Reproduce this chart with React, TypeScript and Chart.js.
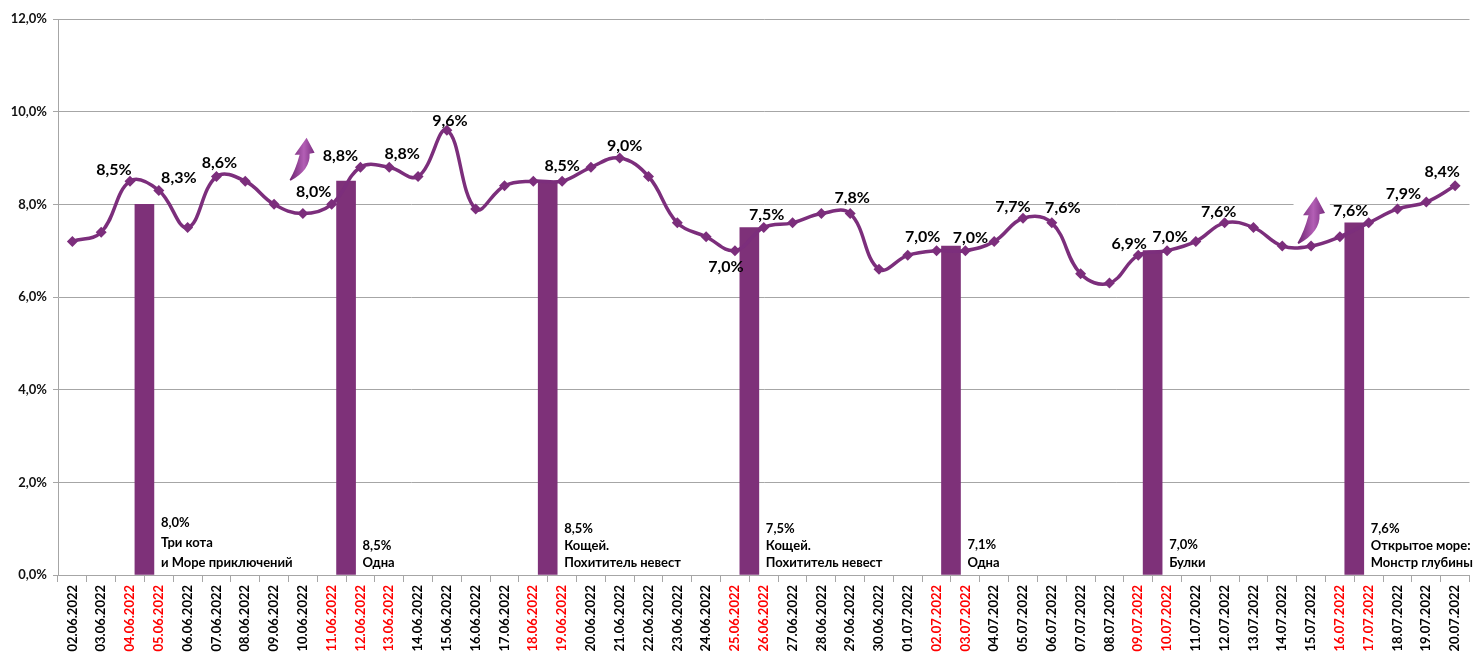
import React, { useEffect, useRef } from 'react';
import { Chart, registerables } from 'chart.js';

Chart.register(...registerables);

// ---------- data ----------
const categories = [
  '02.06.2022', '03.06.2022', '04.06.2022', '05.06.2022', '06.06.2022', '07.06.2022', '08.06.2022',
  '09.06.2022', '10.06.2022', '11.06.2022', '12.06.2022', '13.06.2022', '14.06.2022', '15.06.2022',
  '16.06.2022', '17.06.2022', '18.06.2022', '19.06.2022', '20.06.2022', '21.06.2022', '22.06.2022',
  '23.06.2022', '24.06.2022', '25.06.2022', '26.06.2022', '27.06.2022', '28.06.2022', '29.06.2022',
  '30.06.2022', '01.07.2022', '02.07.2022', '03.07.2022', '04.07.2022', '05.07.2022', '06.07.2022',
  '07.07.2022', '08.07.2022', '09.07.2022', '10.07.2022', '11.07.2022', '12.07.2022', '13.07.2022',
  '14.07.2022', '15.07.2022', '16.07.2022', '17.07.2022', '18.07.2022', '19.07.2022', '20.07.2022',
];

const weekendIdx = [2, 3, 9, 10, 11, 16, 17, 23, 24, 30, 31, 37, 38, 44, 45];

const shareValues = [
  7.2, 7.4, 8.5, 8.3, 7.5, 8.6, 8.5, 8.0, 7.8, 8.0, 8.8, 8.8, 8.6, 9.6, 7.9, 8.4, 8.5, 8.5, 8.8, 9.0,
  8.6, 7.6, 7.3, 7.0, 7.5, 7.6, 7.8, 7.8, 6.6, 6.9, 7.0, 7.0, 7.2, 7.7, 7.6, 6.5, 6.3, 6.9, 7.0, 7.2,
  7.6, 7.5, 7.1, 7.1, 7.3, 7.6, 7.9, 8.05, 8.4,
];

const labeledIdx = [2, 3, 5, 9, 10, 11, 13, 17, 19, 23, 24, 27, 30, 31, 33, 34, 37, 38, 40, 45, 46, 48];

const barPositions = [2.5, 9.5, 16.5, 23.5, 30.5, 37.5, 44.5];
const barValues = [8.0, 8.5, 8.5, 7.5, 7.1, 7.0, 7.6];
const barTitles = [
  ['Три кота', 'и Море приключений'],
  ['Одна'],
  ['Кощей.', 'Похититель невест'],
  ['Кощей.', 'Похититель невест'],
  ['Одна'],
  ['Булки'],
  ['Открытое море:', 'Монстр глубины'],
];

const yMin = 0;
const yMax = 12;
const yStep = 2;

// arrow anchors (category index, value) for the tail of each arrow
const arrowAnchorX = [7.54, 42.53];
const arrowAnchorY = [8.53, 7.17];

// ---------- styles ----------
const PURPLE = '#7C2E7C';
const BAR_PURPLE = '#7E3179';
const GRID = '#a6a6a6';
const FONT = "Lato, 'Noto Sans', sans-serif";

// label offsets (px) relative to the point, same order as labeledIdx
const labelOffsets: number[][] = [
  [-16, -11], [20, -13], [3, -14], [-18, -12], [-20, -11], [13, -13], [3, -9], [0, -15], [5, -12],
  [-9, 16], [3, -13], [2, -16], [-14, -14], [5, -13], [-10, -11], [11, -15], [-9, -11], [3, -14],
  [-6, -11], [-18, -12], [6, -15], [-13, -14],
];
const annotationLineGap = [20, 17, 17, 17, 18, 18, 17];
const arrowScale = [1, 1.1];

const fmt = (v: number) => v.toFixed(1).replace('.', ',') + '%';

function drawArrow(ctx: CanvasRenderingContext2D, x0: number, y0: number, s: number) {
  ctx.save();
  ctx.translate(x0, y0);
  ctx.scale(s, s);
  const g = ctx.createLinearGradient(0, 0, 26, 0);
  g.addColorStop(0, '#6c2370');
  g.addColorStop(0.55, '#b35fb5');
  g.addColorStop(1, '#74287a');
  ctx.fillStyle = g;
  ctx.beginPath();
  ctx.moveTo(0, 0);
  ctx.quadraticCurveTo(6, -10, 10, -25);
  ctx.lineTo(5, -25);
  ctx.lineTo(17, -42);
  ctx.lineTo(25, -27);
  ctx.lineTo(20, -26);
  ctx.quadraticCurveTo(21, -10, 1, 1);
  ctx.closePath();
  ctx.fill();
  ctx.restore();
}

const overlayPlugin = {
  id: 'overlay',
  beforeDatasetsDraw(chart: any) {
    const ctx = chart.ctx as CanvasRenderingContext2D;
    const xb = chart.scales.xb;
    const y = chart.scales.y;
    ctx.save();
    ctx.fillStyle = '#ffffff';
    arrowAnchorX.forEach((ax, i) => {
      const px = xb.getPixelForValue(ax);
      const py = y.getPixelForValue(arrowAnchorY[i]);
      const s = arrowScale[i];
      ctx.fillRect(px - 4, py - 47 * s, 33 * s, 26 * s);
    });
    ctx.restore();
  },
  afterDatasetsDraw(chart: any) {
    const ctx = chart.ctx as CanvasRenderingContext2D;
    const xb = chart.scales.xb;
    const y = chart.scales.y;
    const area = chart.chartArea;

    // arrows
    arrowAnchorX.forEach((ax, i) => {
      drawArrow(ctx, xb.getPixelForValue(ax), y.getPixelForValue(arrowAnchorY[i]), arrowScale[i]);
    });

    // point labels
    const lineMeta = chart.getDatasetMeta(0);
    ctx.save();
    ctx.font = `bold 16px ${FONT}`;
    ctx.fillStyle = '#000';
    ctx.textAlign = 'center';
    ctx.textBaseline = 'middle';
    labeledIdx.forEach((idx, k) => {
      const el = lineMeta.data[idx];
      const [dx, dy] = labelOffsets[k];
      ctx.fillText(fmt(shareValues[idx]), el.x + dx, el.y + dy);
    });
    ctx.restore();

    // bar annotations
    const barMeta = chart.getDatasetMeta(1);
    ctx.save();
    ctx.font = `bold 13px ${FONT}`;
    ctx.fillStyle = '#000';
    ctx.textAlign = 'left';
    ctx.textBaseline = 'middle';
    barMeta.data.forEach((el: any, i: number) => {
      const lines = [fmt(barValues[i]), ...barTitles[i]];
      const x = el.x + el.width / 2 + 7;
      const gap = annotationLineGap[i];
      const bottom = area.bottom - 12;
      lines.forEach((t, j) => {
        ctx.fillText(t, x, bottom - (lines.length - 1 - j) * gap);
      });
    });
    ctx.restore();
  },
};

export default function App() {
  const ref = useRef<HTMLCanvasElement | null>(null);

  useEffect(() => {
    if (!ref.current) return;
    const chart = new Chart(ref.current, {
      type: 'bar',
      data: {
        labels: categories,
        datasets: [
          {
            type: 'line',
            label: 'share',
            data: shareValues,
            xAxisID: 'x',
            yAxisID: 'y',
            borderColor: PURPLE,
            backgroundColor: PURPLE,
            borderWidth: 3.5,
            tension: 0.4,
            pointStyle: 'rectRot',
            pointRadius: 5.5,
            pointBackgroundColor: PURPLE,
            pointBorderColor: PURPLE,
            pointBorderWidth: 0,
            order: 1,
          } as any,
          {
            type: 'bar',
            label: 'premiere',
            data: barPositions.map((p, i) => ({ x: p, y: barValues[i] })),
            xAxisID: 'xb',
            yAxisID: 'y',
            backgroundColor: BAR_PURPLE,
            borderWidth: 0,
            barThickness: 19,
            grouped: false,
            order: 2,
          } as any,
        ],
      },
      options: {
        animation: false,
        responsive: false,
        events: [],
        layout: { padding: { top: 19, right: 5, left: 0, bottom: 0 } },
        plugins: { legend: { display: false }, tooltip: { enabled: false } },
        scales: {
          x: {
            type: 'category',
            offset: true,
            grid: {
              offset: true,
              drawOnChartArea: false,
              drawTicks: true,
              tickLength: 7,
              color: GRID,
            },
            border: { color: GRID },
            ticks: {
              autoSkip: false,
              maxRotation: 90,
              minRotation: 90,
              padding: 3,
              font: { family: FONT, size: 13, weight: 'bold' },
              color: (c: any) => (weekendIdx.includes(c.index) ? '#ff0000' : '#000000'),
            },
            afterFit: (s: any) => {
              s.height = 85;
            },
          },
          xb: {
            type: 'linear',
            display: false,
            offset: false,
            bounds: 'ticks',
            min: -0.5,
            max: categories.length - 0.5,
            grace: 0,
          },
          y: {
            min: yMin,
            max: yMax,
            ticks: {
              stepSize: yStep,
              padding: 6,
              font: { family: FONT, size: 13, weight: 'bold' },
              color: '#111',
              callback: (v: any) => fmt(Number(v)),
            },
            grid: { color: GRID, tickLength: 5 },
            border: { color: GRID },
            afterFit: (s: any) => {
              s.width = 58;
            },
          },
        } as any,
      },
      plugins: [overlayPlugin],
    });
    return () => chart.destroy();
  }, []);

  return (
    <div style={{ position: 'absolute', left: 0, top: 0, width: 1475, height: 660, background: '#fff' }}>
      <canvas ref={ref} width={1475} height={660} />
    </div>
  );
}
